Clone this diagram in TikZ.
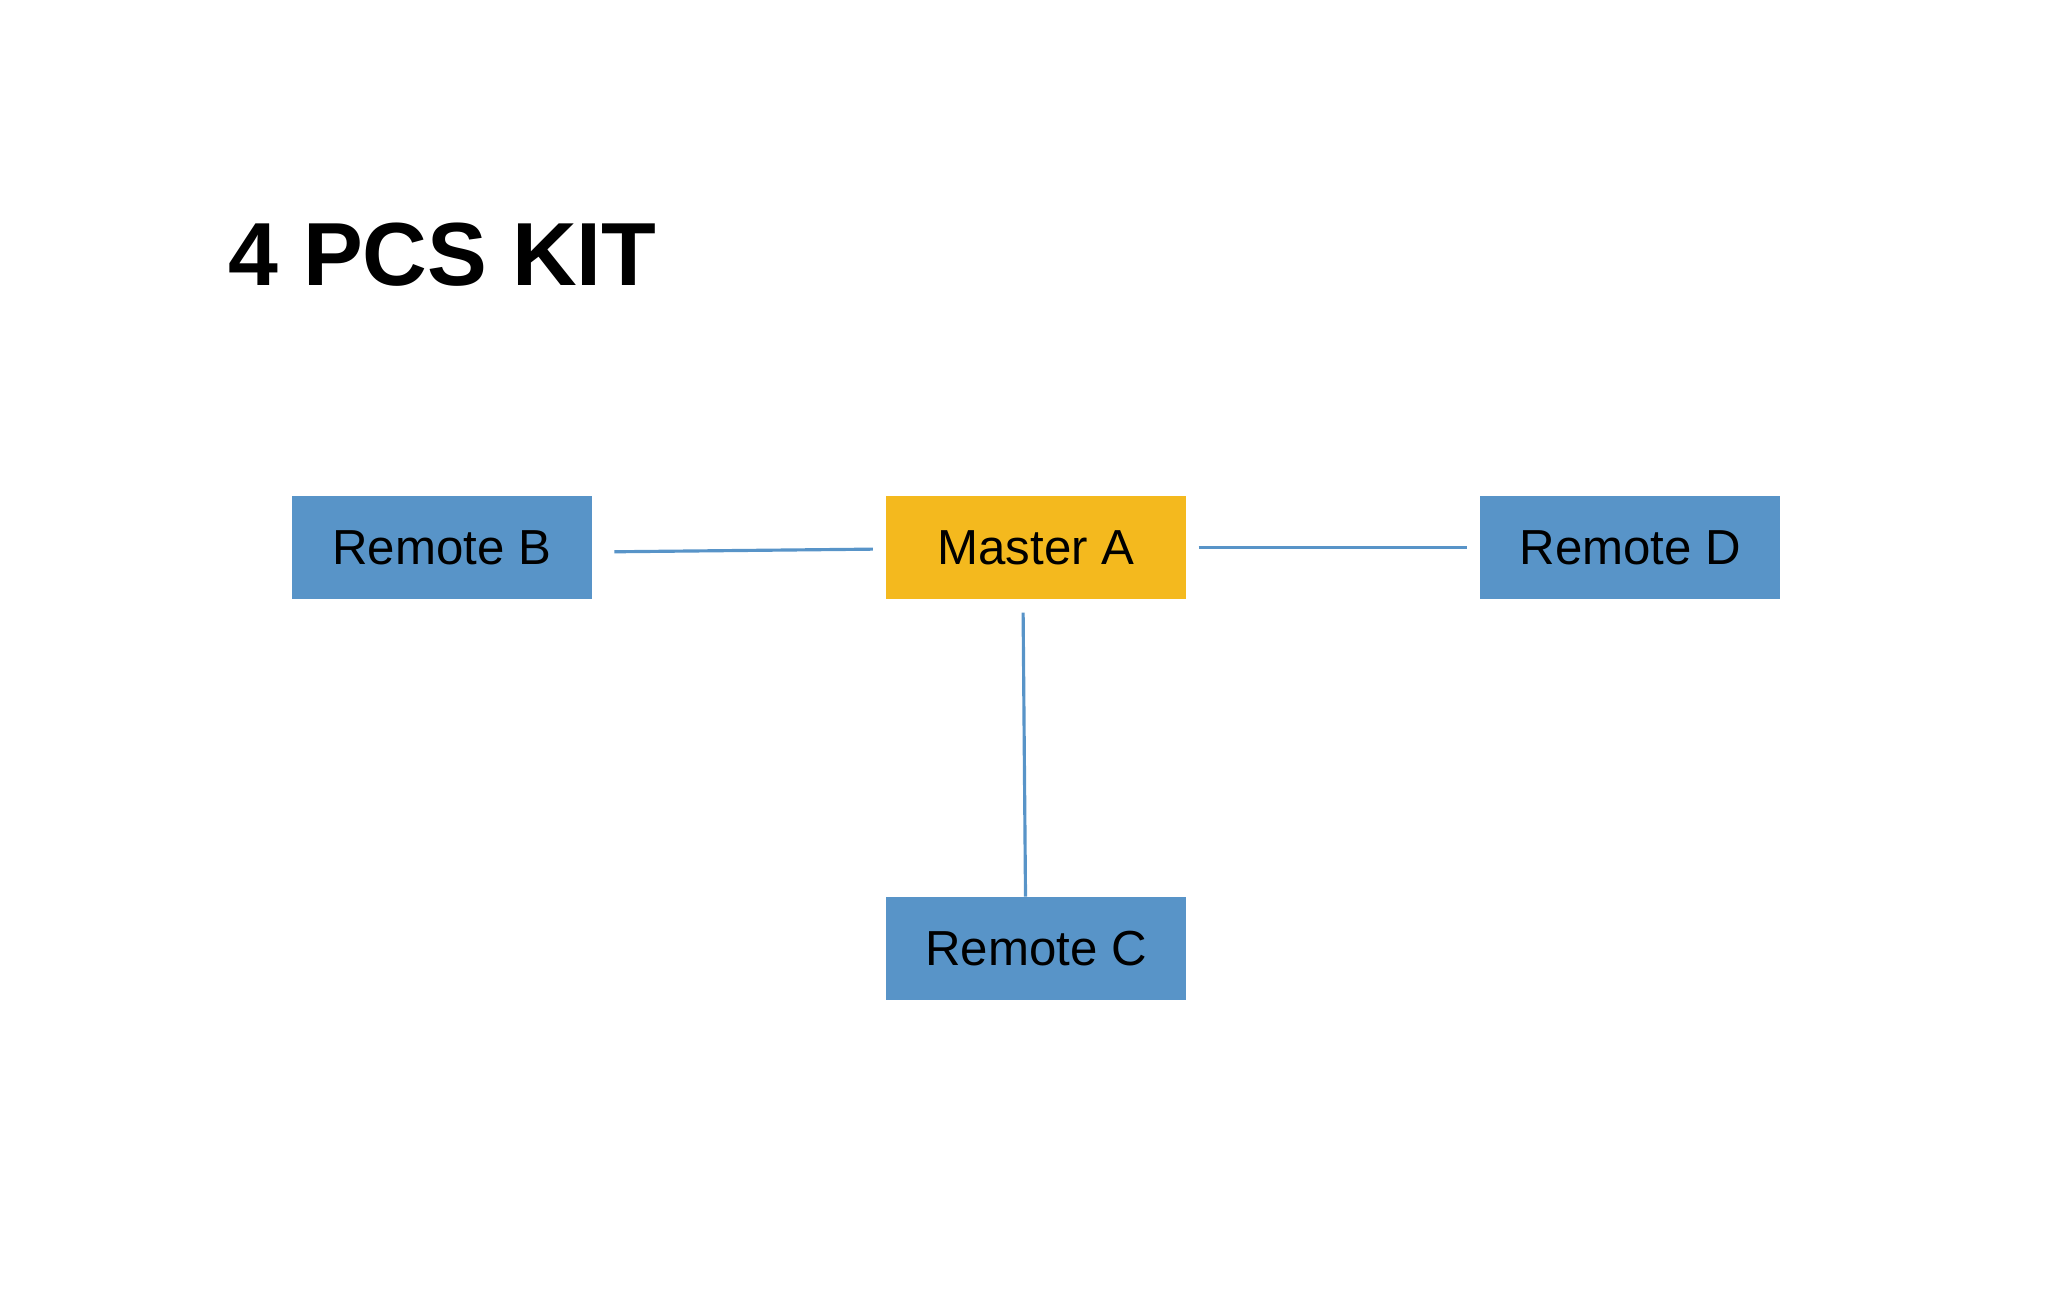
\documentclass[tikz,border=0pt]{standalone}
\usepackage{fontspec}
\setmainfont{Liberation Sans}
\usepackage{tikz}
\usetikzlibrary{positioning}
\usepackage{xcolor}

\definecolor{kitblue}{HTML}{5894C8}
\definecolor{kitgold}{HTML}{F4B91E}

\tikzset{
  unit/.style={fill=kitblue, draw=none, minimum width=3cm, minimum height=1.03cm, inner sep=0pt, font=\fontsize{14}{16}\selectfont},
  master/.style={unit, fill=kitgold},
  link/.style={draw=kitblue, line width=0.9pt}
}

\begin{document}
\begin{tikzpicture}

\useasboundingbox (0,0) rectangle (20.68,-12.99);

\node[anchor=base west, font=\fontsize{25.5}{30}\selectfont\bfseries] (title) at (2.16,-2.85) {4 PCS KIT};

\node[master] (masterA) at (10.36,-5.475) {Master A};
\node[unit, left=2.93cm of masterA] (remB) {Remote B};
\node[unit, right=2.93cm of masterA] (remD) {Remote D};
\node[unit, below=2.97cm of masterA] (remC) {Remote C};

\draw[link, shorten <=0.22cm, shorten >=0.125cm] ([yshift=-0.045cm]remB.east) -- ([yshift=-0.015cm]masterA.west);
\draw[link, shorten <=0.12cm, shorten >=0.13cm] (masterA.east) -- (remD.west);
\draw[link, shorten <=0.13cm] ([xshift=-0.13cm]masterA.south) -- ([xshift=-0.105cm]remC.north);

\end{tikzpicture}
\end{document}
